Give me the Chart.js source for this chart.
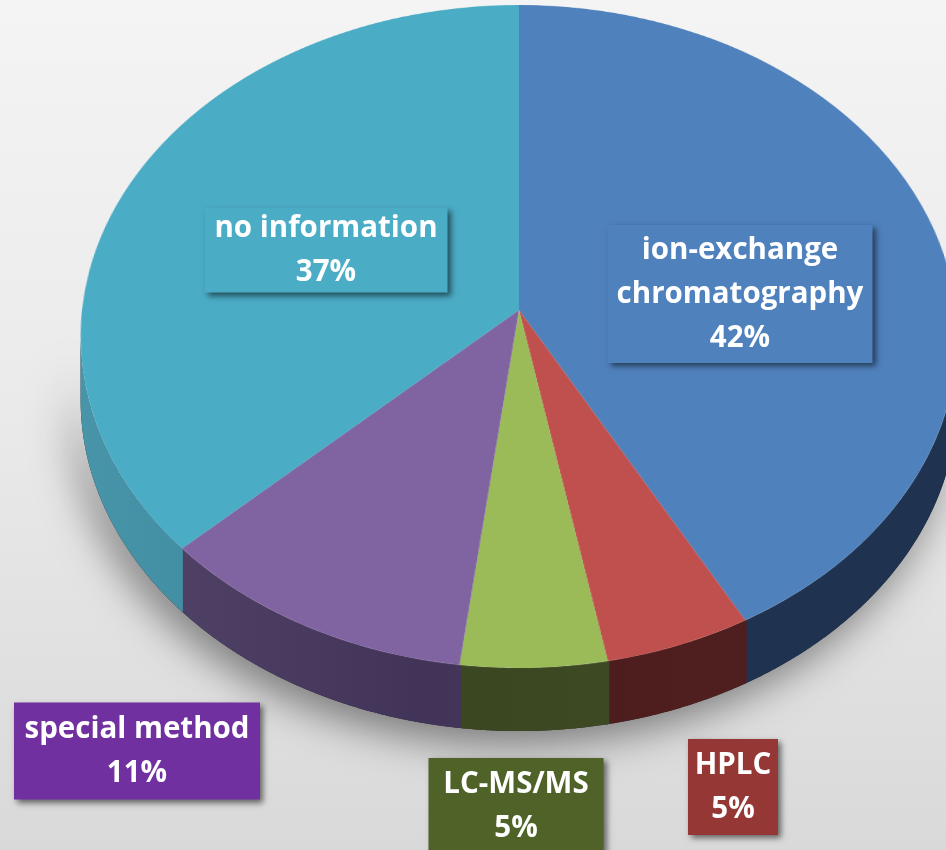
<!DOCTYPE html>
<html>
<head>
<meta charset="utf-8">
<script src="https://cdn.jsdelivr.net/npm/chart.js@4/dist/chart.umd.min.js"></script>
<style>
  html, body { margin: 0; padding: 0; background: #e6e6e6; }
  #wrap { width: 946px; height: 850px; position: relative; overflow: hidden; }
</style>
</head>
<body>
<div id="wrap"><canvas id="c" width="946" height="850"></canvas></div>
<script>
// Separation methods used (share of reports, %)
const categories = [['ion-exchange', 'chromatography'], 'HPLC', 'LC-MS/MS', 'special method', 'no information'];
const shares = [42, 5, 5, 11, 37];

// Colours: top face, side wall, label tag
const faceColors = ['#4F81BD', '#C0504D', '#9BBB59', '#8064A2', '#4BACC6'];
const wallColors = ['#1F3350', '#4F1E1E', '#3E4B23', '#47375F', '#3A8CA2'];
const tagColors  = ['#4F81BD', '#953735', '#4F6228', '#7030A0', '#4BACC6'];

// Label tag layout (centre and size of each tag, in page pixels)
const tagBoxes = [
  { cx: 740, cy: 294, w: 265, h: 138 },
  { cx: 733, cy: 787, w: 90,  h: 96 },
  { cx: 516, cy: 806, w: 175, h: 96 },
  { cx: 137, cy: 751, w: 246, h: 97 },
  { cx: 326, cy: 250, w: 243, h: 85 }
];

// Perspective view of the disc: projected centre (px, py), half-width a,
// near half-depth b, foreshortening t, and wall height in pixels.
const view = { px: 519, py: 310, a: 437, b: 329.4, t: 0.08, depth: 63 };

function makeCanvas(w, h) {
  const c = document.createElement('canvas');
  c.width = w; c.height = h;
  return c;
}

// rim point of the tilted disc for a canvas angle
function rimPoint(ang) {
  const u = Math.cos(ang), v = Math.sin(ang);
  const k = 1 - view.t * v;
  return [view.px + view.a * u / k, view.py + view.b * v / k];
}

function rimPoints(a0, a1) {
  const n = Math.max(2, Math.ceil((a1 - a0) / 0.004));
  const pts = [];
  for (let i = 0; i <= n; i++) pts.push(rimPoint(a0 + (a1 - a0) * i / n));
  return pts;
}

// Row-by-row projective mapping of the flat disc image onto the tilted view
function project(src, dctx, centre, R, H) {
  const top = Math.floor(view.py - view.b / (1 + view.t)) - 1;
  const bottom = Math.ceil(view.py + view.b / (1 - view.t)) + 1;
  dctx.imageSmoothingEnabled = true;
  dctx.imageSmoothingQuality = 'high';
  for (let y = Math.max(0, top); y <= Math.min(H - 1, bottom); y++) {
    const rel = y + 0.5 - view.py;
    const v = rel / (view.b + view.t * rel);
    if (v < -1.02 || v > 1.02) continue;
    const k = 1 - view.t * v;
    const s = view.a / (k * R);
    const srcH = R * k * k / view.b;
    const srcY = centre.y + R * v - srcH / 2;
    dctx.drawImage(src, 0, srcY, src.width, srcH, view.px - s * centre.x, y, s * src.width, 1);
  }
}

const pie3d = {
  id: 'pie3d',
  afterDatasetsDraw(chart) {
    const ctx = chart.ctx;
    const W = chart.canvas.width, H = chart.canvas.height;
    const arcs = chart.getDatasetMeta(0).data;
    const centre = arcs[0];
    const R = centre.outerRadius;
    const TAU = Math.PI * 2;

    // top face as drawn by the pie controller
    const flatTop = makeCanvas(W, H);
    flatTop.getContext('2d').drawImage(chart.canvas, 0, 0);

    // visible part of the rim: between the two widest points, on the near side
    const nearFrom = Math.asin(view.t);
    const nearTo = Math.PI - nearFrom;

    // side wall bands, one per slice, following the projected rim
    const wall = makeCanvas(W, H);
    const wctx = wall.getContext('2d');
    arcs.forEach((el, i) => {
      for (let turn = -1; turn <= 1; turn++) {
        // overlap neighbours slightly so no seam shows between bands
        const a0 = Math.max(el.startAngle + turn * TAU - 0.003, nearFrom);
        const a1 = Math.min(el.endAngle + turn * TAU + 0.003, nearTo);
        if (a1 <= a0) continue;
        const pts = rimPoints(a0, a1);
        wctx.beginPath();
        pts.forEach((p, j) => j ? wctx.lineTo(p[0], p[1]) : wctx.moveTo(p[0], p[1]));
        for (let j = pts.length - 1; j >= 0; j--) wctx.lineTo(pts[j][0], pts[j][1] + view.depth);
        wctx.closePath();
        wctx.fillStyle = wallColors[i];
        wctx.fill();
      }
    });
    // a touch of shading across the wall, lighter on the left
    wctx.globalCompositeOperation = 'source-atop';
    const shade = wctx.createLinearGradient(80, 0, 700, 0);
    shade.addColorStop(0, 'rgba(255,255,255,0.07)');
    shade.addColorStop(0.55, 'rgba(0,0,0,0.07)');
    shade.addColorStop(1, 'rgba(0,0,0,0)');
    wctx.fillStyle = shade;
    wctx.fillRect(0, 0, W, H);

    ctx.save();
    ctx.setTransform(1, 0, 0, 1, 0, 0);
    ctx.clearRect(0, 0, W, H);

    // page background
    const g = ctx.createLinearGradient(0, 0, 0, H);
    g.addColorStop(0, '#f4f4f4');
    g.addColorStop(0.45, '#ebebeb');
    g.addColorStop(1, '#d9d9d9');
    ctx.fillStyle = g;
    ctx.fillRect(0, 0, W, H);

    // soft shadow under the disc, cast from its lower outline
    ctx.save();
    ctx.shadowColor = 'rgba(0,0,0,0.45)';
    ctx.shadowBlur = 40;
    ctx.shadowOffsetX = -8;
    ctx.shadowOffsetY = 14;
    const outline = rimPoints(nearFrom, nearTo);
    ctx.beginPath();
    outline.forEach((p, j) => j ? ctx.lineTo(p[0], p[1] + view.depth) : ctx.moveTo(p[0], p[1] + view.depth));
    for (let j = outline.length - 1; j >= 0; j--) ctx.lineTo(outline[j][0], outline[j][1]);
    ctx.closePath();
    ctx.fillStyle = '#2a2a2a';
    ctx.fill();
    ctx.restore();

    ctx.drawImage(wall, 0, 0);

    // top face
    project(flatTop, ctx, centre, R, H);

    // label tags
    const lineGap = 44;
    chart.data.labels.forEach((label, i) => {
      const box = tagBoxes[i];
      const lines = Array.isArray(label) ? label.slice() : [label];
      lines.push(chart.data.datasets[0].data[i] + '%');

      ctx.save();
      ctx.shadowColor = 'rgba(0,0,0,0.55)';
      ctx.shadowBlur = 6;
      ctx.shadowOffsetX = 3;
      ctx.shadowOffsetY = 3;
      ctx.fillStyle = tagColors[i];
      ctx.fillRect(box.cx - box.w / 2, box.cy - box.h / 2, box.w, box.h);
      ctx.restore();

      ctx.save();
      ctx.fillStyle = '#ffffff';
      ctx.font = 'bold 29.5px "Open Sans", Lato, sans-serif';
      ctx.textAlign = 'center';
      ctx.textBaseline = 'middle';
      const top = box.cy - (lines.length - 1) * lineGap / 2;
      lines.forEach((t, k) => ctx.fillText(t, box.cx, top + k * lineGap + 1));
      ctx.restore();
    });

    ctx.restore();
  }
};

new Chart(document.getElementById('c'), {
  type: 'pie',
  data: {
    labels: categories,
    datasets: [{
      data: shares,
      backgroundColor: faceColors,
      borderWidth: 0,
      radius: 420,
      clip: false
    }]
  },
  options: {
    responsive: false,
    animation: false,
    layout: { padding: 0 },
    plugins: {
      legend: { display: false },
      tooltip: { enabled: false }
    }
  },
  plugins: [pie3d]
});
</script>
</body>
</html>
